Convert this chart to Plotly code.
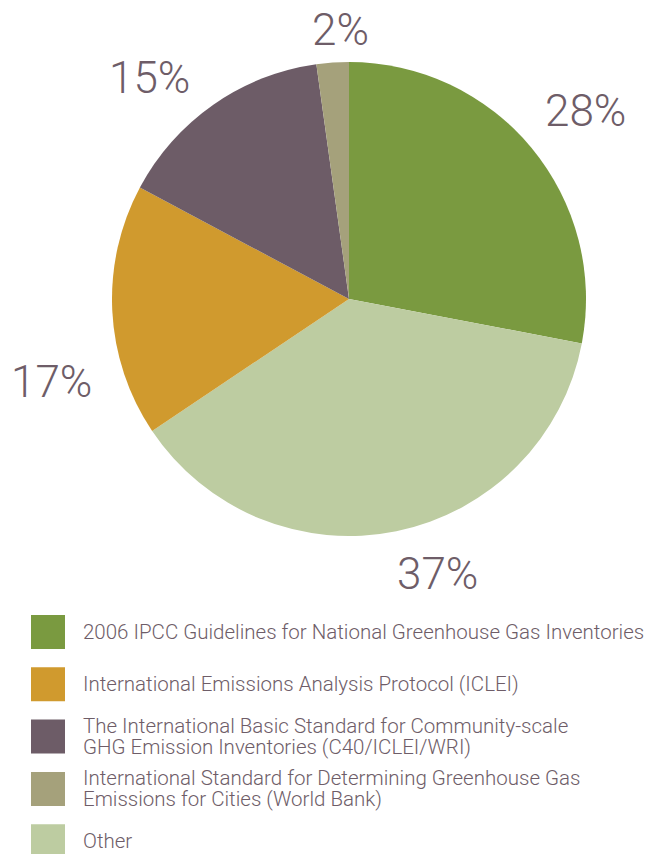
import math

import plotly.graph_objects as go

# pie slices, clockwise from 12 o'clock (shares)
slice_names = [
    "2006 IPCC Guidelines for National Greenhouse Gas Inventories",
    "Other",
    "International Emissions Analysis Protocol (ICLEI)",
    "The International Basic Standard for Community-scale GHG Emission Inventories (C40/ICLEI/WRI)",
    "International Standard for Determining Greenhouse Gas Emissions for Cities (World Bank)",
]
slice_values = [28.0, 37.6, 17.2, 15.0, 2.2]
slice_text = ["28%", "37%", "17%", "15%", "2%"]
slice_colors = ["#7a9a40", "#bdcca1", "#d09a2e", "#6d5c67", "#a5a17b"]

# legend rows, top to bottom
legend_labels = [
    "2006 IPCC Guidelines for National Greenhouse Gas Inventories",
    "International Emissions Analysis Protocol (ICLEI)",
    "The International Basic Standard for Community-scale<br>GHG Emission Inventories (C40/ICLEI/WRI)",
    "International Standard for Determining Greenhouse Gas<br>Emissions for Cities (World Bank)",
    "Other",
]
legend_colors = ["#7a9a40", "#d09a2e", "#6d5c67", "#a5a17b", "#bdcca1"]

# nudges (px) of each percent label away from its slice's rim midpoint
label_nudge = [(54, -37), (41, 43), (-61, 71), (-64, -27), (8, -33)]

PAGE = 8  # body margin of the html page
W, H = 665 - PAGE, 854 - PAGE
TEXT = "#6e5d68"
FONT = "Roboto"


def px(x):
    return (x - PAGE) / W


def py(y):
    return 1 - (y - PAGE) / H


cx, cy, r = 349, 299, 237

fig = go.Figure(go.Pie(
    labels=slice_names,
    values=slice_values,
    text=slice_text,
    textinfo="none",
    sort=False,
    direction="clockwise",
    marker=dict(colors=slice_colors, line=dict(width=0)),
    domain=dict(x=[px(cx - r), px(cx + r)], y=[py(cy + r), py(cy - r)]),
    showlegend=False,
    hovertemplate="%{label}: %{text}<extra></extra>",
))

# percent labels anchored at each slice's mid-angle on the rim
total = sum(slice_values)
cum = 0.0
for val, txt, (dx, dy) in zip(slice_values, slice_text, label_nudge):
    theta = 2 * math.pi * (cum + val / 2) / total
    cum += val
    rx = cx + r * math.sin(theta)
    ry = cy - r * math.cos(theta)
    fig.add_annotation(
        x=px(rx), y=py(ry), xref="paper", yref="paper",
        text=txt, showarrow=False, xanchor="center", yanchor="middle",
        xshift=dx, yshift=-dy,
        font=dict(family=FONT, size=44, color=TEXT, weight=300),
    )

# custom legend: square swatch + text lines
row0, row_step, line_gap = 632, 52.3, 21
for i, (label, color) in enumerate(zip(legend_labels, legend_colors)):
    yc = row0 + i * row_step
    fig.add_shape(
        type="rect", xref="paper", yref="paper",
        x0=px(31), x1=px(65), y0=py(yc - 17), y1=py(yc + 17),
        fillcolor=color, line=dict(width=0),
    )
    lines = label.split("<br>")
    for j, line in enumerate(lines):
        ly = yc + (j - (len(lines) - 1) / 2) * line_gap
        fig.add_annotation(
            x=px(81), y=py(ly), xref="paper", yref="paper",
            text=line, showarrow=False, xanchor="left", yanchor="middle",
            font=dict(family=FONT, size=20.5, color=TEXT, weight=300),
        )

fig.update_layout(
    width=W, height=H,
    margin=dict(l=0, r=0, t=0, b=0),
    paper_bgcolor="white",
    plot_bgcolor="white",
    font=dict(family=FONT, color=TEXT),
)

fig.write_html("out.html")
